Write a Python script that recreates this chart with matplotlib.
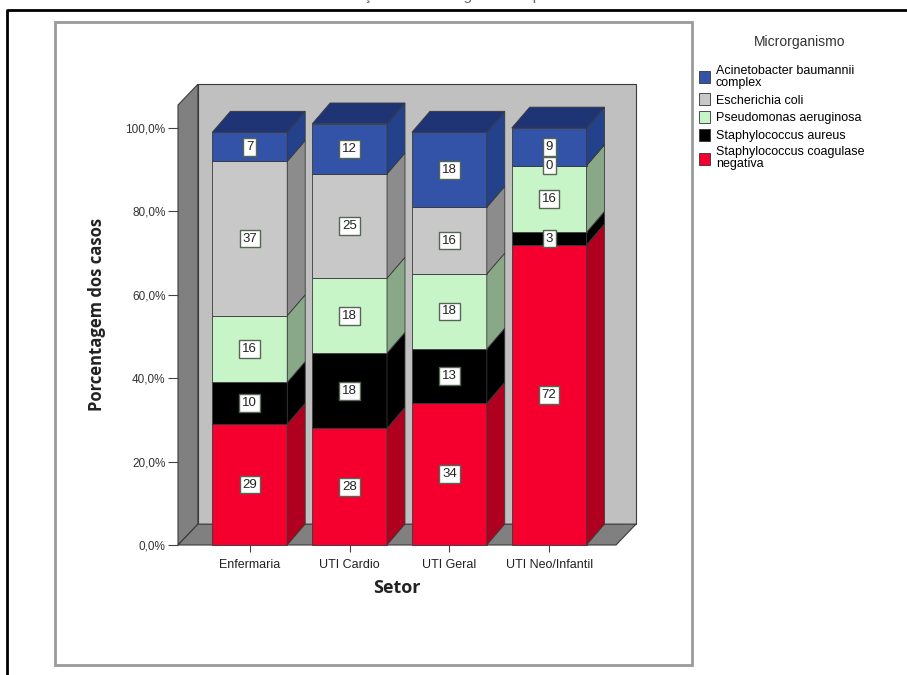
import matplotlib.pyplot as plt
from matplotlib.patches import Polygon, Rectangle
from matplotlib.lines import Line2D

# percentages of cases per sector (bottom to top of each bar)
setores = ['Enfermaria', 'UTI Cardio', 'UTI Geral', 'UTI Neo/Infantil']
especies = ['Staphylococcus coagulase\nnegativa', 'Staphylococcus aureus',
            'Pseudomonas aeruginosa', 'Escherichia coli',
            'Acinetobacter baumannii\ncomplex']
staph_cn = [29, 28, 34, 72]
staph_aureus = [10, 18, 13, 3]
pseudomonas = [16, 18, 18, 16]
e_coli = [37, 25, 16, 0]
acinetobacter = [7, 12, 18, 9]
valores = [staph_cn, staph_aureus, pseudomonas, e_coli, acinetobacter]
yticks = [0, 20, 40, 60, 80, 100]

# front / side / top colours for each species
frente = ['#f5002e', '#000000', '#c8f5c8', '#c8c8c8', '#3253a8']
lado = ['#b0001f', '#000000', '#88a888', '#8c8c8c', '#24418c']
topo = ['#b0001f', '#000000', '#88a888', '#8c8c8c', '#1f3475']

W, H = 907, 675
fig = plt.figure(figsize=(W / 100, H / 100), dpi=100)
plt.rcParams['font.family'] = ['Liberation Sans', 'DejaVu Sans']

# axes placed so that 0% sits at y=545px and one sector is ~100px wide
x0, x1 = -0.72, 3.67
ytop = 110.5
ax = fig.add_axes([178 / W, (H - 545) / H, 438 / W, ytop * 4.17 / H])
ax.set_xlim(x0, x1)
ax.set_ylim(0, ytop)
ax.patch.set_visible(False)
for sp in ax.spines.values():
    sp.set_visible(False)

# 3d box: left wall, back wall, floor
wdx, wdy = 0.2, 5.0
edge = '#3a3a3a'
ax.add_patch(Polygon([(x0, 0), (x0 + wdx, wdy), (x0 + wdx, ytop), (x0, ytop - wdy)],
                     closed=True, fc='#808080', ec=edge, lw=0.8, clip_on=False))
ax.add_patch(Rectangle((x0 + wdx, wdy), x1 - x0, ytop - wdy, fc='#c0c0c0',
                       ec=edge, lw=0.8, clip_on=False))
ax.add_patch(Polygon([(x0, 0), (x1, 0), (x1 + wdx, wdy), (x0 + wdx, wdy)],
                     closed=True, fc='#808080', ec=edge, lw=0.8, clip_on=False))

# stacked 3d bars
bw = 0.75
bdx, bdy = 0.18, 5.0
for i in range(len(setores)):
    base = 0
    xl, xr = i - bw / 2, i + bw / 2
    for k, serie in enumerate(valores):
        v = serie[i]
        ax.add_patch(Rectangle((xl, base), bw, v, fc=frente[k], ec=edge, lw=0.6,
                               clip_on=False, zorder=3))
        ax.add_patch(Polygon([(xr, base), (xr + bdx, base + bdy),
                              (xr + bdx, base + v + bdy), (xr, base + v)],
                             closed=True, fc=lado[k], ec=edge, lw=0.6,
                             clip_on=False, zorder=3))
        base += v
    ax.add_patch(Polygon([(xl, base), (xr, base), (xr + bdx, base + bdy),
                          (xl + bdx, base + bdy)], closed=True, fc=topo[-1],
                         ec=edge, lw=0.6, clip_on=False, zorder=3))
    # value labels
    base = 0
    for k, serie in enumerate(valores):
        v = serie[i]
        ax.text(i, base + v / 2, str(v), ha='center', va='center', fontsize=9.5,
                color='#222222', zorder=5,
                bbox=dict(boxstyle='square,pad=0.22', fc='white', ec='#556655', lw=1.0))
        base += v

ax.set_yticks(yticks)
ax.set_yticklabels(['{:.1f}%'.format(t).replace('.', ',') for t in yticks],
                   fontsize=8.5, color='#333333')
ax.set_xticks(range(len(setores)))
ax.set_xticklabels(setores, fontsize=9, color='#222222')
ax.tick_params(axis='y', length=7, color='#444444', pad=2)
ax.tick_params(axis='x', length=5, color='#444444', pad=5)
ax.set_ylabel('Porcentagem dos casos', fontsize=12, fontweight='bold',
              family=['Open Sans', 'DejaVu Sans'], color='#222222', labelpad=14)
ax.set_xlabel('Setor', fontsize=13, fontweight='bold',
              family=['Open Sans', 'DejaVu Sans'], color='#222222', labelpad=6)

# legend, top species first
fig.text(800 / W, 1 - 42 / H, 'Microrganismo', ha='center', va='center',
         fontsize=10, color='#333333')
handles = [Rectangle((0, 0), 1, 1, fc=frente[k], ec='#333333', lw=0.6)
           for k in range(len(especies) - 1, -1, -1)]
leg = fig.legend(handles, especies[::-1], loc='upper left',
                 bbox_to_anchor=(694 / W, 1 - 60 / H), frameon=False,
                 fontsize=9, handlelength=0.9, handleheight=1.1,
                 handletextpad=0.45, labelspacing=0.35, borderaxespad=0)
for t in leg.get_texts():
    t.set_linespacing(1.0)

# surrounding frames
fig.add_artist(Rectangle((55 / W, 1 - 665 / H), (692 - 55) / W, (665 - 22) / H,
                         transform=fig.transFigure, fill=False, ec='#9a9a9a', lw=2))
fig.add_artist(Line2D([7 / W, 7 / W, 1], [0, 1 - 10 / H, 1 - 10 / H],
                      transform=fig.transFigure, color='black', lw=2))
# title sits above the page edge, only its lowest strokes show
fig.text(0.497, 1.0, 'Distribuição dos microrganismos por setor',
         ha='center', va='baseline', fontsize=11, color='#666666')

fig.savefig('out.png', dpi=100)
